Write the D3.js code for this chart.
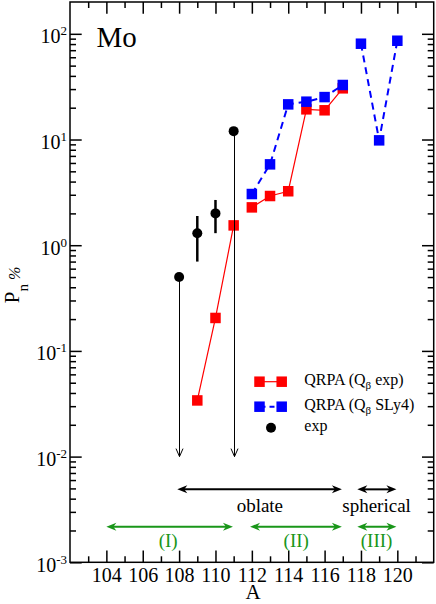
<!DOCTYPE html>
<html><head><meta charset="utf-8">
<script src="https://cdn.jsdelivr.net/npm/d3@7"></script>
<style>body{margin:0;background:#fff}svg{display:block}svg text{font-family:"Liberation Serif","Times New Roman",Times,serif}</style>
</head><body>
<svg id="c" width="436" height="604"></svg>
<script>
// ---- data ----
const redA = [109, 110, 111, 112, 113, 114, 115, 116, 117];
const redP = [0.034, 0.205, 1.54, 2.28, 2.92, 3.24, 19.3, 18.9, 30.5];
const redGroup = [0, 0, 0, 1, 1, 1, 1, 1, 1];
const blueA = [112, 113, 114, 115, 116, 117, 118, 119, 120];
const blueP = [3.05, 5.82, 21.5, 22.8, 25.2, 32.8, 80.6, 9.82, 86.0];
const blueGroup = [0, 0, 0, 0, 0, 0, 1, 1, 1];
const expA = [108, 109, 110, 111];
const expP = [0.5, 1.3, 2.0, 12.0];
const expLo = [null, 0.70, 1.30, null];
const expHi = [null, 1.89, 2.68, null];
const expLimitTo = [0.01, null, null, 0.01];
const xMajor = [104, 106, 108, 110, 112, 114, 116, 118, 120];
const xMinor = [103, 105, 107, 109, 111, 113, 115, 117, 119, 121];
const yMajor = [1e-3, 1e-2, 1e-1, 1, 10, 100];
const yExp = ["-3", "-2", "-1", "0", "1", "2"];
const regionArrows = [
  {from: 107.9, to: 116.95, p: 0.0049, c: "black"},
  {from: 117.8, to: 119.95, p: 0.0049, c: "black"},
  {from: 104.0, to: 110.96, p: 0.00217, c: "green"},
  {from: 111.9, to: 116.95, p: 0.00217, c: "green"},
  {from: 117.8, to: 119.95, p: 0.00217, c: "green"}
];
const regionLabels = [
  {t: "oblate", a: 112.44, p: 0.00301, c: "black"},
  {t: "spherical", a: 118.86, p: 0.00301, c: "black"},
  {t: "(I)", a: 107.4, p: 0.001405, c: "green"},
  {t: "(II)", a: 114.44, p: 0.001405, c: "green"},
  {t: "(III)", a: 118.86, p: 0.001405, c: "green"}
];

// ---- layout ----
const GREEN = "rgb(25,150,25)";
const FONT = "Liberation Serif";
const L = 70, R = 433.7, T = 2, B = 562.3;
const svg = d3.select("#c");
const x = d3.scaleLinear().domain([102, 122]).range([L, R]);
const y = d3.scaleLog().domain([1e-3, 200]).range([B, T]);

const yMinor = [];
for (let e = -3; e <= 2; e++) for (let k = 2; k <= 9; k++) {
  const v = k * Math.pow(10, e); if (v < 200) yMinor.push(v);
}

function styleAxis(g) {
  g.attr("font-family", FONT).attr("font-size", 20);
  g.select(".domain").remove();
  g.selectAll(".tick line").attr("stroke", "#000").attr("stroke-width", 1.5);
  g.selectAll("text").attr("fill", "#000");
}
// bottom
svg.append("g").attr("transform", `translate(0,${B})`)
  .call(d3.axisBottom(x).tickValues(xMajor).tickSizeInner(-11.7).tickSizeOuter(0).tickPadding(5.5).tickFormat(d3.format("d")))
  .call(styleAxis);
svg.append("g").attr("transform", `translate(0,${B})`)
  .call(d3.axisBottom(x).tickValues(xMinor).tickSizeInner(-6).tickSizeOuter(0).tickFormat(""))
  .call(styleAxis);
// top
svg.append("g").attr("transform", `translate(0,${T})`)
  .call(d3.axisTop(x).tickValues(xMajor).tickSizeInner(-11.7).tickSizeOuter(0).tickFormat(""))
  .call(styleAxis);
svg.append("g").attr("transform", `translate(0,${T})`)
  .call(d3.axisTop(x).tickValues(xMinor).tickSizeInner(-6).tickSizeOuter(0).tickFormat(""))
  .call(styleAxis);
// left
const gl = svg.append("g").attr("transform", `translate(${L},0)`)
  .call(d3.axisLeft(y).tickValues(yMajor).tickSizeInner(-11.7).tickSizeOuter(0).tickPadding(3).tickFormat(() => ""))
  .call(styleAxis);
gl.selectAll(".tick text").each(function(d, i) {
  const t = d3.select(this).attr("dy", "0.45em").text(null);
  t.append("tspan").text("10");
  t.append("tspan").attr("dy", -8).attr("font-size", 13).text(yExp[i]);
});
svg.append("g").attr("transform", `translate(${L},0)`)
  .call(d3.axisLeft(y).tickValues(yMinor).tickSizeInner(-6).tickSizeOuter(0).tickFormat(""))
  .call(styleAxis);
// right
svg.append("g").attr("transform", `translate(${R},0)`)
  .call(d3.axisRight(y).tickValues(yMajor).tickSizeInner(-11.7).tickSizeOuter(0).tickFormat(""))
  .call(styleAxis);
svg.append("g").attr("transform", `translate(${R},0)`)
  .call(d3.axisRight(y).tickValues(yMinor).tickSizeInner(-6).tickSizeOuter(0).tickFormat(""))
  .call(styleAxis);

// frame
svg.append("rect").attr("x", L).attr("y", T).attr("width", R - L).attr("height", B - T)
  .attr("fill", "none").attr("stroke", "#000").attr("stroke-width", 1.5);

// ---- series ----
function lines(A, P, G, color, w, dash) {
  const groups = d3.groups(A.map((a, i) => ({a, p: P[i], g: G[i]})), d => d.g);
  const ln = d3.line().x(d => x(d.a)).y(d => y(d.p));
  groups.forEach(([k, pts]) => {
    svg.append("path").attr("d", ln(pts)).attr("fill", "none")
      .attr("stroke", color).attr("stroke-width", w).attr("stroke-dasharray", dash || null);
  });
}
function squares(A, P, color) {
  const s = 10.5;
  svg.append("g").selectAll("rect").data(A).join("rect")
    .attr("x", d => x(d) - s / 2).attr("y", (d, i) => y(P[i]) - s / 2)
    .attr("width", s).attr("height", s).attr("fill", color);
}
lines(redA, redP, redGroup, "#ff0000", 1.2);
squares(redA, redP, "#ff0000");
lines(blueA, blueP, blueGroup, "#0000ff", 2, "7,5");
squares(blueA, blueP, "#0000ff");

// exp: error bars, limits, points
const ge = svg.append("g");
expA.forEach((a, i) => {
  if (expLo[i] != null) {
    ge.append("line").attr("x1", x(a)).attr("x2", x(a)).attr("y1", y(expLo[i])).attr("y2", y(expHi[i]))
      .attr("stroke", "#000").attr("stroke-width", 2.5);
  }
  if (expLimitTo[i] != null) {
    const xx = Math.round(x(a)) + 0.5, y0 = y(expP[i]), y1 = y(expLimitTo[i]);
    ge.append("line").attr("x1", xx).attr("x2", xx).attr("y1", y0).attr("y2", y1)
      .attr("stroke", "#000").attr("stroke-width", 1);
    ge.append("path").attr("d", `M${xx - 3.5},${y1 - 8}L${xx},${y1}L${xx + 3.5},${y1 - 8}`)
      .attr("fill", "none").attr("stroke", "#000").attr("stroke-width", 1);
  }
});
ge.selectAll("circle").data(expA).join("circle")
  .attr("cx", d => x(d)).attr("cy", (d, i) => y(expP[i])).attr("r", 5).attr("fill", "#000");

// ---- region arrows & labels ----
function head(xt, yy, dir, color) {
  const Lh = 10, hw = 4, n = 7;
  svg.append("path")
    .attr("d", `M${xt},${yy}L${xt - dir * Lh},${yy - hw}L${xt - dir * n},${yy}L${xt - dir * Lh},${yy + hw}Z`)
    .attr("fill", color);
}
regionArrows.forEach(r => {
  const c = r.c === "green" ? GREEN : "#000";
  const yy = y(r.p), x1 = x(r.from), x2 = x(r.to);
  svg.append("line").attr("x1", x1 + 6).attr("x2", x2 - 6).attr("y1", yy).attr("y2", yy)
    .attr("stroke", c).attr("stroke-width", 2);
  head(x1, yy, -1, c);
  head(x2, yy, 1, c);
});
svg.append("g").attr("font-family", FONT).attr("font-size", 19)
  .selectAll("text").data(regionLabels).join("text")
  .attr("x", d => x(d.a)).attr("y", d => y(d.p)).attr("text-anchor", "middle")
  .attr("fill", d => d.c === "green" ? GREEN : "#000").text(d => d.t);

// ---- "Mo" ----
svg.append("text").attr("x", 96.5).attr("y", 46.7).attr("font-family", FONT).attr("font-size", 29).text("Mo");

// ---- legend ----
const lg = svg.append("g").attr("font-family", FONT).attr("font-size", 16);
const lx1 = 259.5, lx2 = 281.7, ss = 10.5;
[[381.7, "#ff0000", null, "exp)"], [406.7, "#0000ff", "5,4", "SLy4)"]].forEach(([ly, c, dash, tail]) => {
  lg.append("line").attr("x1", lx1).attr("x2", lx2).attr("y1", ly).attr("y2", ly)
    .attr("stroke", c).attr("stroke-width", dash ? 2 : 1.2).attr("stroke-dasharray", dash)
    .attr("stroke-dashoffset", dash ? -1 : null);
  [lx1, lx2].forEach(xx => lg.append("rect").attr("x", xx - ss / 2).attr("y", ly - ss / 2)
    .attr("width", ss).attr("height", ss).attr("fill", c));
  const t = lg.append("text").attr("x", 304.3).attr("y", ly + 3.5);
  t.append("tspan").text("QRPA (Q");
  t.append("tspan").attr("font-size", 11).attr("dy", 4).text("β");
  t.append("tspan").attr("dy", -4).text("\u00a0" + tail);
});
lg.append("circle").attr("cx", 271).attr("cy", 427.7).attr("r", 5).attr("fill", "#000");
lg.append("text").attr("x", 304.3).attr("y", 430.5).text("exp");

// ---- axis titles ----
svg.append("text").attr("x", 253).attr("y", 598.5).attr("text-anchor", "middle")
  .attr("font-family", FONT).attr("font-size", 21).text("A");
const yt = svg.append("text").attr("transform", "translate(19,285) rotate(-90)")
  .attr("text-anchor", "middle").attr("font-family", FONT).attr("font-size", 21);
yt.append("tspan").text("P");
yt.append("tspan").attr("font-size", 15).attr("dy", 9).text("n");
yt.append("tspan").attr("font-size", 16).attr("dy", -8).attr("dx", 4).attr("font-style", "italic").text("%");
</script>
</body></html>
